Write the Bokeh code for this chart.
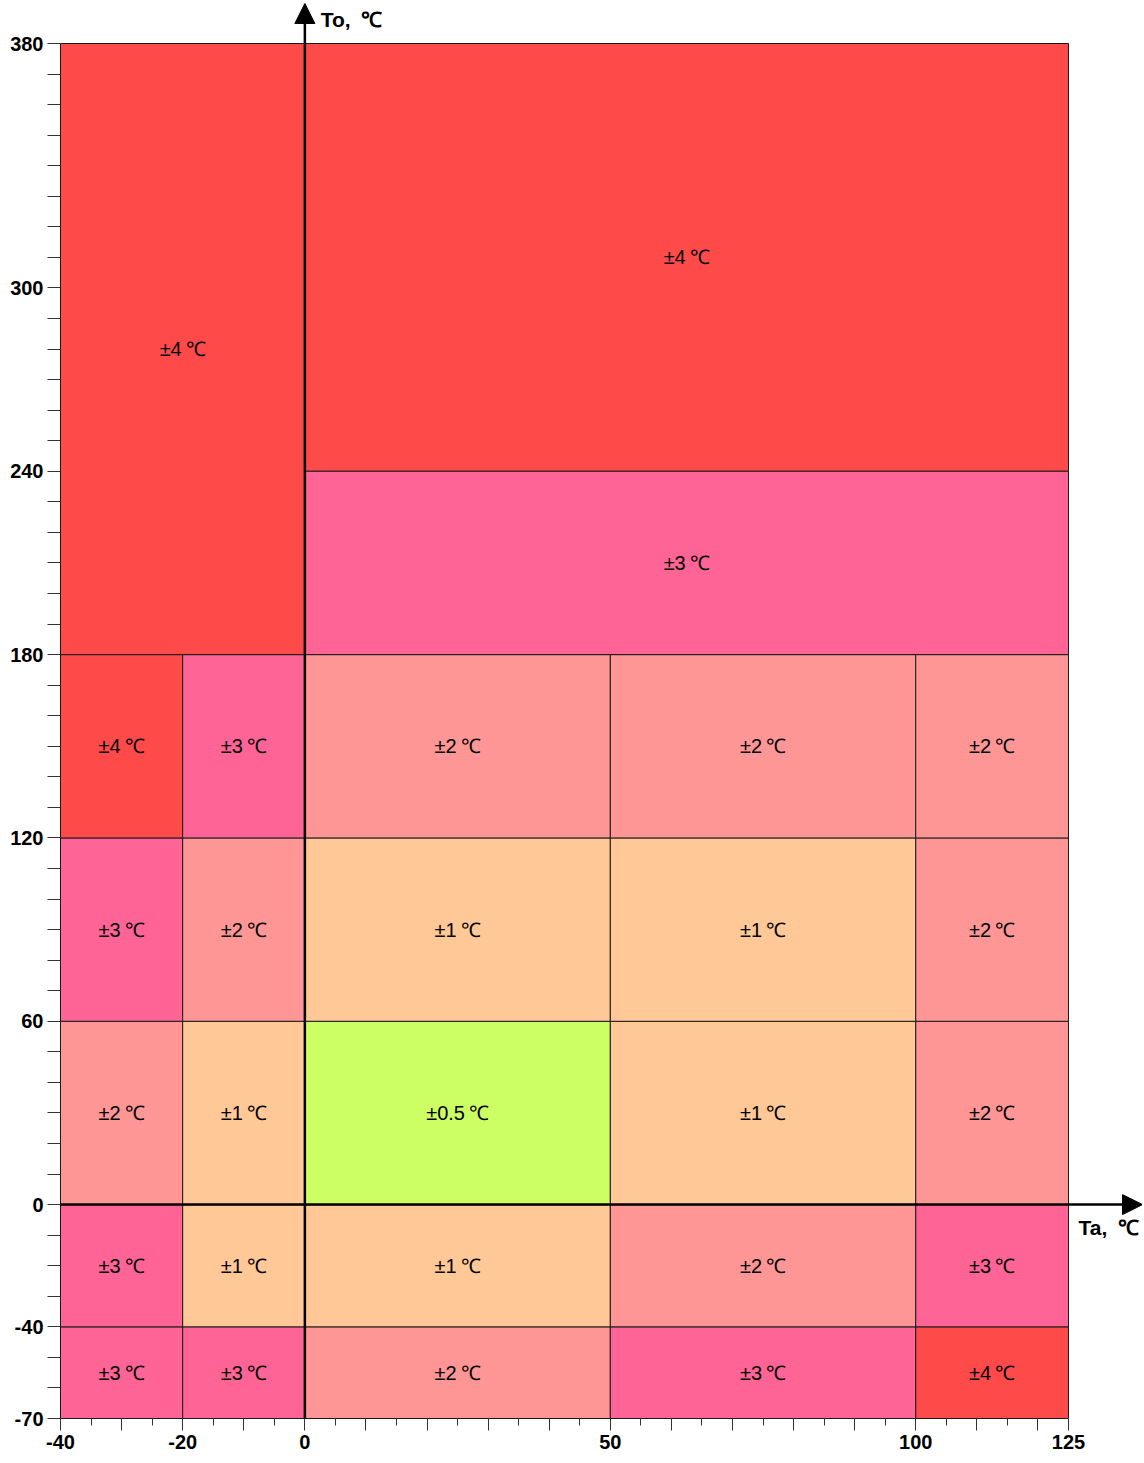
from bokeh.plotting import figure
from bokeh.models import Range1d, FixedTicker, Arrow, NormalHead, ColumnDataSource
from bokeh.core.properties import value
from bokeh.embed import file_html
from bokeh.resources import INLINE

# ---- data ----
ta_edges = [-40, -20, 0, 50, 100, 125]          # Ta band edges, degC
to_edges = [-70, -40, 0, 60, 120, 180]          # To band edges, degC
# accuracy (+/- degC) per cell, rows bottom -> top, columns left -> right
grid_accuracy = [
    [3, 3, 2, 3, 4],      # To -70..-40
    [3, 1, 1, 2, 3],      # To -40..0
    [2, 1, 0.5, 1, 2],    # To 0..60
    [3, 2, 1, 1, 2],      # To 60..120
    [4, 3, 2, 2, 2],      # To 120..180
]
# large cells above To = 180
upper_left = [-40, 0, 0]
upper_right = [0, 125, 125]
upper_bottom = [180, 240, 180]
upper_top = [380, 380, 240]
upper_accuracy = [4, 4, 3]

accuracy_colors = {4: "#FF4A4A", 3: "#FF6496", 2: "#FF9696", 1: "#FFC896", 0.5: "#CCFF64"}

x_tick_major = [-40, -30, -20, -10, 0, 10, 20, 30, 40, 50, 60, 70, 80, 90, 100, 110, 120, 125]
x_tick_minor = [-35, -25, -15, -5, 5, 15, 25, 35, 45, 55, 65, 75, 85, 95, 105, 115]
x_tick_labels = [-40, -20, 0, 50, 100, 125]
y_ticks = list(range(-70, 381, 10))
y_tick_labels = [-70, -40, 0, 60, 120, 180, 240, 300, 380]

DEG = "\u2009\u2103"

# ---- build table ----
left, right, bottom, top, acc = [], [], [], [], []
for r, row in enumerate(grid_accuracy):
    for c, a in enumerate(row):
        left.append(ta_edges[c]); right.append(ta_edges[c + 1])
        bottom.append(to_edges[r]); top.append(to_edges[r + 1])
        acc.append(a)
for l, rr, b, t, a in zip(upper_left, upper_right, upper_bottom, upper_top, upper_accuracy):
    left.append(l); right.append(rr); bottom.append(b); top.append(t); acc.append(a)

src = ColumnDataSource(dict(
    left=left, right=right, bottom=bottom, top=top,
    color=[accuracy_colors[a] for a in acc],
    label=[f"\u00b1{a:g}{DEG}" for a in acc],
    cx=[(l + rr) / 2 for l, rr in zip(left, right)],
    cy=[(b + t) / 2 for b, t in zip(bottom, top)],
))

FW, FH = 1082, 1415
X_END = -40 + FW / (1008 / 165)
Y_END = -70 + FH / (1375 / 450)

p = figure(frame_width=FW, frame_height=FH, width=60 + FW, height=3 + FH + 40,
           x_range=Range1d(-40, X_END), y_range=Range1d(-70, Y_END),
           output_backend="svg", toolbar_location=None,
           min_border_left=60, min_border_right=0, min_border_top=3, min_border_bottom=40)
p.background_fill_color = "white"
p.border_fill_color = "white"
p.outline_line_color = None
p.grid.visible = False

p.quad(left="left", right="right", bottom="bottom", top="top", source=src,
       fill_color="color", line_color="#1a1a1a", line_width=1)

p.text(x="cx", y="cy", text="label", source=src, text_align="center",
       text_baseline="middle", text_font=value("Liberation Sans"),
       text_font_size="20px", text_color="black")

# axes with arrows
head_kw = dict(size=20, fill_color="black", line_color="black")
p.add_layout(Arrow(end=NormalHead(**head_kw), x_start=0, y_start=-70, x_end=0, y_end=Y_END,
                   line_width=2.5, line_color="black"))
p.add_layout(Arrow(end=NormalHead(**head_kw), x_start=-40.5, y_start=0, x_end=X_END, y_end=0,
                   line_width=2.5, line_color="black"))

AXIS_DEG = "\u2002\u2103"
p.text(x=[2.6], y=[387.8], text=["To," + AXIS_DEG], text_align="left", text_baseline="middle",
       text_font=value("Liberation Sans"), text_font_style="bold", text_font_size="21px",
       text_color="black")
p.text(x=[X_END - 0.6], y=[-7.4], text=["Ta," + AXIS_DEG], text_align="right", text_baseline="middle",
       text_font=value("Liberation Sans"), text_font_style="bold", text_font_size="21px",
       text_color="black")

# tick axes
xa = p.xaxis[0]
xa.ticker = FixedTicker(ticks=x_tick_major, minor_ticks=x_tick_minor)
xa.major_label_overrides = {t: (str(t) if t in x_tick_labels else "") for t in x_tick_major}
xa.bounds = (-40, 125)
xa.major_tick_out = 12
xa.major_tick_in = 0
xa.minor_tick_out = 7
xa.minor_tick_in = 0
xa.major_label_standoff = 4

ya = p.yaxis[0]
ya.ticker = FixedTicker(ticks=y_ticks, minor_ticks=[])
ya.major_label_overrides = {t: (str(t) if t in y_tick_labels else "") for t in y_ticks}
ya.bounds = (-70, 380)
ya.major_tick_out = 13
ya.major_tick_in = 0
ya.minor_tick_out = 0
ya.minor_tick_in = 0
ya.major_label_standoff = 4

for ax in (xa, ya):
    ax.axis_line_color = "#1a1a1a"
    ax.axis_line_width = 1
    ax.major_tick_line_color = "#333333"
    ax.minor_tick_line_color = "#333333"
    ax.major_label_text_font = "Liberation Sans"
    ax.major_label_text_font_style = "bold"
    ax.major_label_text_font_size = "20px"
    ax.major_label_text_color = "black"

open("out.html", "w").write(file_html(p, INLINE))
